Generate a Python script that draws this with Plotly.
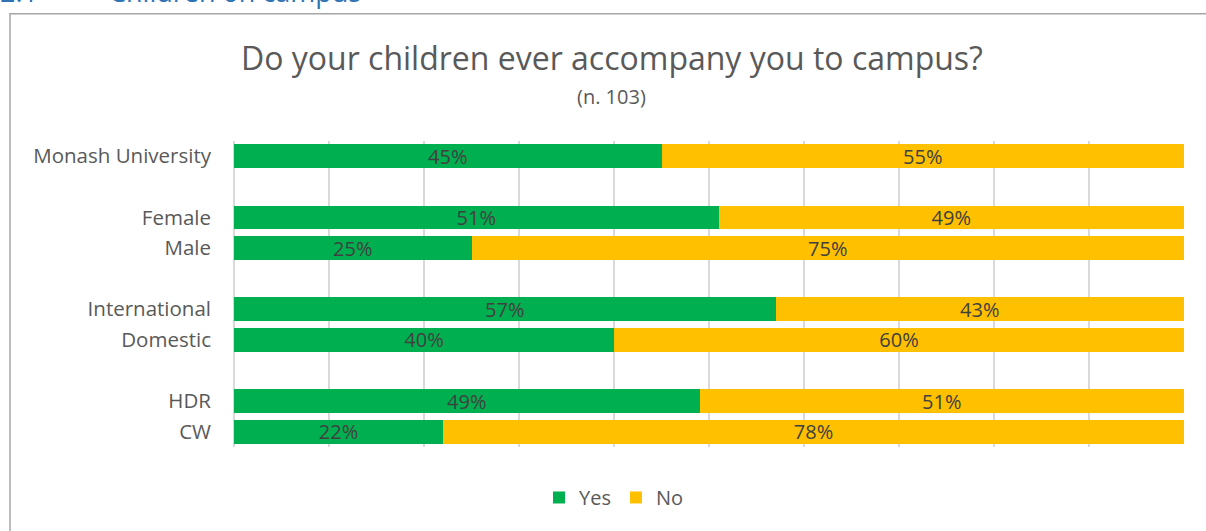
import plotly.graph_objects as go

# Survey groups, top to bottom; each inner list is drawn as one block
groups = [
    ["Monash University"],
    ["Female", "Male"],
    ["International", "Domestic"],
    ["HDR", "CW"],
]
yes_pct = [45, 51, 25, 57, 40, 49, 22]
no_pct = [55, 49, 75, 43, 60, 51, 78]

title_text = "Do your children ever accompany you to campus?"
subtitle_text = "(n. 103)"
header_num = "2.1"
header_text = "Children on campus"

GREEN = "#00B050"
YELLOW = "#FFC000"
TEXT = "#595959"
FONT = "Open Sans"

# Build the category order with empty spacer rows between blocks
labels = [lab for g in groups for lab in g]
category_order = []
for i, g in enumerate(groups):
    if i > 0:
        category_order.append(" " * i)
    category_order.extend(g)

W, H = 1206, 531
L, R, T, B = 234, 22, 140.6, 83.6
plot_w = W - L - R
plot_h = H - T - B


def px_x(x):
    return (x - L) / plot_w


def px_y(y):
    return (H - B - y) / plot_h


fig = go.Figure()
for name, vals, color in [("Yes", yes_pct, GREEN), ("No", no_pct, YELLOW)]:
    fig.add_trace(go.Bar(
        name=name,
        y=labels,
        x=vals,
        orientation="h",
        marker=dict(color=color, line=dict(width=0)),
        width=0.78,
        text=[f"{v}%" for v in vals],
        texttemplate="%{text}",
        textposition="inside",
        insidetextanchor="middle",
        constraintext="none",
        textfont=dict(family=FONT, size=20, color="#404040"),
        hoverinfo="skip",
    ))

fig.update_layout(
    width=W,
    height=H,
    barmode="stack",
    bargap=0.22,
    margin=dict(l=L, r=R, t=T, b=B, autoexpand=False),
    paper_bgcolor="white",
    plot_bgcolor="white",
    font=dict(family=FONT, color=TEXT),
    showlegend=True,
    legend=dict(
        orientation="h",
        x=px_x(614), xanchor="center",
        y=px_y(498), yanchor="middle",
        font=dict(size=20, color=TEXT),
        itemsizing="constant",
        traceorder="normal",
    ),
    xaxis=dict(
        range=[0, 100],
        dtick=10,
        showgrid=True,
        gridcolor="#D9D9D9",
        gridwidth=1.5,
        zeroline=True,
        zerolinecolor="#D9D9D9",
        zerolinewidth=1.5,
        showticklabels=False,
        fixedrange=True,
    ),
    yaxis=dict(
        type="category",
        categoryorder="array",
        categoryarray=category_order,
        autorange="reversed",
        showgrid=False,
        zeroline=False,
        ticks="",
        ticklabelstandoff=22,
        tickfont=dict(family=FONT, size=20.5, color=TEXT),
        fixedrange=True,
    ),
)

# Chart title and sample size
fig.add_annotation(
    text=title_text, xref="paper", yref="paper",
    x=px_x(612), y=px_y(57), xanchor="center", yanchor="middle",
    showarrow=False, font=dict(family=FONT, size=32, color=TEXT),
)
fig.add_annotation(
    text=subtitle_text, xref="paper", yref="paper",
    x=px_x(611), y=px_y(96), xanchor="center", yanchor="middle",
    showarrow=False, font=dict(family=FONT, size=20, color=TEXT),
)

# Section heading above the chart frame
fig.add_annotation(
    text=header_num, xref="paper", yref="paper",
    x=px_x(-2), y=px_y(-9), xanchor="left", yanchor="middle",
    showarrow=False, font=dict(family=FONT, size=27, color="#2E74B5"),
)
fig.add_annotation(
    text=header_text, xref="paper", yref="paper",
    x=px_x(107), y=px_y(-9), xanchor="left", yanchor="middle",
    showarrow=False, font=dict(family=FONT, size=27, color="#2E74B5"),
)

# Chart frame
fig.add_shape(
    type="rect", xref="paper", yref="paper",
    x0=px_x(10), x1=px_x(W + 10), y0=px_y(H + 10), y1=px_y(13),
    line=dict(color="#A6A6A6", width=1.5), fillcolor="rgba(0,0,0,0)",
    layer="below",
)

fig.write_html("out.html")
